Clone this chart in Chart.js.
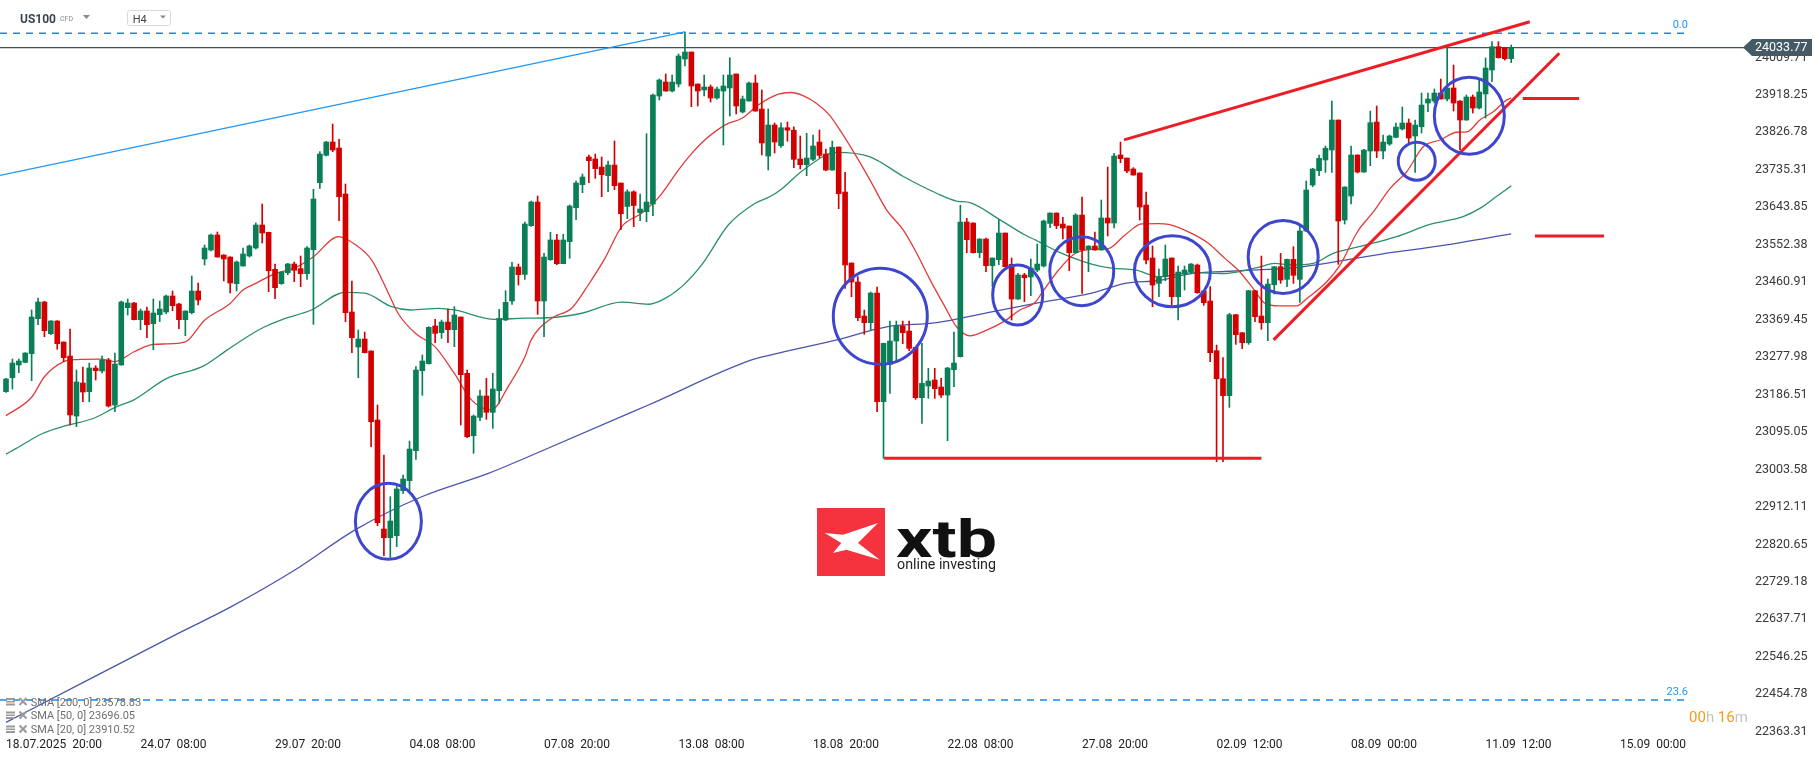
<!DOCTYPE html>
<html>
<head>
<meta charset="utf-8">
<script src="https://cdn.jsdelivr.net/npm/chart.js@4.4.0/dist/chart.umd.min.js"></script>
<style>
  html,body{margin:0;padding:0;background:#fff;}
  #wrap{position:relative;width:1815px;height:761px;overflow:hidden;}
  #c{position:absolute;left:0;top:0;}
  #ov{position:absolute;left:0;top:0;pointer-events:none;}
  text{font-family:Roboto,"DejaVu Sans",sans-serif;}
</style>
</head>
<body>
<div id="wrap">
<canvas id="c" width="1815" height="761"></canvas>
<svg id="ov" width="1815" height="761" xmlns="http://www.w3.org/2000/svg">
  <!-- header -->
  <text x="20" y="23.3" font-size="12" font-weight="bold" fill="#37474f">US100</text>
  <text x="60" y="21.3" font-size="7" fill="#8a8a8a">CFD</text>
  <polygon points="83,15 90,15 86.5,19" fill="#8a8a8a"/>
  <rect x="127.5" y="10.5" width="43" height="15" rx="2" fill="#fff" stroke="#dadada"/>
  <text x="132.7" y="22.5" font-size="11" fill="#444">H4</text>
  <polygon points="160,15.5 166,15.5 163,18.5" fill="#8a8a8a"/>

  <!-- legend -->
  <g fill="#9a9a9a">
    <rect x="6" y="698" width="9" height="2"/><rect x="6" y="701" width="9" height="1.5"/><rect x="6" y="703.5" width="9" height="2"/>
    <rect x="6" y="711.5" width="9" height="2"/><rect x="6" y="714.5" width="9" height="1.5"/><rect x="6" y="717" width="9" height="2"/>
    <rect x="6" y="725.5" width="9" height="2"/><rect x="6" y="728.5" width="9" height="1.5"/><rect x="6" y="731" width="9" height="2"/>
  </g>
  <g stroke="#9a9a9a" stroke-width="2">
    <line x1="19.5" y1="698" x2="26.5" y2="705"/><line x1="26.5" y1="698" x2="19.5" y2="705"/>
    <line x1="19.5" y1="711.5" x2="26.5" y2="718.5"/><line x1="26.5" y1="711.5" x2="19.5" y2="718.5"/>
    <line x1="19.5" y1="725.5" x2="26.5" y2="732.5"/><line x1="26.5" y1="725.5" x2="19.5" y2="732.5"/>
  </g>
  <g font-size="11" fill="#6f6f6f" style="white-space:pre">
    <text x="30.7" y="705.5" id="lg0"></text>
    <text x="30.7" y="719.2" id="lg1"></text>
    <text x="30.7" y="733.2" id="lg2"></text>
  </g>

  <!-- logo -->
  <rect x="817" y="508" width="68" height="68" fill="#f4333f"/>
  <polygon fill="#fff" points="824.7,533 843,534.7 878,523 858,543 879.7,559.7 846.3,549.7 833,553 841.3,543"/>
  <text x="896" y="556.7" font-size="51" font-weight="bold" fill="#111" textLength="101" lengthAdjust="spacingAndGlyphs">xtb</text>
  <text x="897" y="569" font-size="14" fill="#222" textLength="99" lengthAdjust="spacingAndGlyphs">online investing</text>

  <!-- countdown -->
  <text x="1689" y="721.5" font-size="15" style="white-space:pre"><tspan fill="#f59c1a">00</tspan><tspan fill="#c4c4c4">h </tspan><tspan fill="#f59c1a">16</tspan><tspan fill="#c4c4c4">m</tspan></text>
</svg>
</div>
<script>
// ---------------- DATA ----------------
const candleOpen = [
23193.5,23227.7,23258.7,23265.2,23286.3,23371.8,23412.5,23335.2,23366.1,23314.8,
23280.6,23134.1,23214.7,23193.5,23251.3,23244.0,23270.9,23161.0,23258.7,23398.6,
23410.0,23369.3,23390.5,23359.6,23381.6,23388.1,23427.1,23407.6,23369.3,23386.4,
23439.3,23517.5,23539.4,23576.1,23527.2,23522.3,23457.2,23500.4,23524.8,23544.3,
23600.5,23582.6,23492.2,23457.2,23484.1,23505.3,23493.9,23481.7,23540.3,23703.9,
23770.6,23803.1,23788.5,23676.2,23388.1,23302.6,23322.1,23292.8,23124.4,22858.2,
22837.0,22841.9,22951.8,22976.2,23049.5,23244.8,23261.9,23353.9,23337.6,23363.6,
23344.9,23375.8,23238.3,23086.1,23130.9,23183.0,23143.1,23196.0,23368.5,23414.9,
23497.9,23480.0,23598.8,23656.6,23414.9,23515.8,23563.8,23506.0,23559.8,23642.8,
23698.9,23766.5,23761.6,23742.0,23720.9,23746.9,23703.0,23645.7,23681.5,23630.6,
23633.0,23651.7,23915.4,23949.6,23927.6,23944.7,24005.8,24022.9,23944.7,23930.1,
23937.4,23910.6,23927.6,23935.0,23969.2,23876.4,23903.2,23947.2,23883.7,23768.9,
23844.7,23794.1,23838.0,23832.0,23761.6,23747.8,23760.8,23803.1,23773.8,23734.7,
23790.9,23681.0,23507.7,23461.3,23378.2,23362.0,23434.4,23169.1,23260.2,23317.2,
23353.8,23341.6,23301.7,23178.8,23207.3,23222.0,23204.9,23185.3,23247.2,23279.0,
23607.8,23605.3,23532.9,23566.3,23501.1,23515.8,23580.9,23504.4,23419.7,23478.4,
23473.5,23490.5,23500.3,23604.5,23629.7,23602.9,23598.0,23532.9,23624.8,23541.0,
23549.1,23539.4,23617.5,23605.3,23771.3,23764.0,23737.2,23727.4,23649.3,23519.9,
23458.0,23474.3,23519.9,23425.4,23480.8,23486.5,23502.7,23439.3,23414.9,23293.6,
23225.2,23183.7,23381.5,23337.5,23313.1,23440.1,23378.2,23361.9,23454.7,23498.7,
23467.8,23516.6,23467.8,23585.8,23698.1,23733.1,23759.2,23783.6,23856.8,23612.6,
23671.2,23771.4,23729.8,23781.1,23851.9,23781.1,23798.2,23814.5,23834.9,23849.5,
23817.8,23840.5,23898.3,23903.2,23922.7,23908.1,23935.0,23903.2,23856.8,23913.0,
23886.1,23920.3,23978.9,24035.9,24032.6,24006.6];

const candleHigh = [
23226.0,23273.3,23273.3,23288.7,23393.0,23422.2,23414.0,23367.0,23367.0,23315.0,
23346.5,23246.4,23253.8,23263.5,23257.0,23280.6,23274.9,23287.9,23414.9,23419.8,
23411.6,23395.4,23400.3,23419.8,23414.9,23429.6,23439.3,23409.0,23391.0,23476.0,
23458.9,23551.7,23578.5,23583.4,23528.0,23523.0,23512.6,23544.3,23551.7,23605.4,
23651.8,23583.0,23505.3,23487.4,23506.9,23510.1,23524.8,23547.6,23687.6,23779.5,
23804.8,23847.1,23809.7,23700.6,23463.7,23344.1,23339.2,23293.0,23161.0,23038.9,
22937.2,22961.6,22990.1,23073.1,23254.6,23283.1,23352.0,23370.2,23368.5,23395.4,
23401.1,23376.0,23246.4,23136.6,23197.6,23226.1,23238.3,23394.6,23440.1,23509.3,
23505.3,23607.8,23659.1,23671.3,23531.3,23582.5,23577.7,23577.7,23649.3,23707.9,
23725.0,23771.4,23773.8,23766.5,23756.7,23805.6,23703.0,23686.4,23684.0,23676.2,
23823.5,23920.3,23957.0,23969.2,23966.7,24018.0,24071.7,24023.0,23945.0,23966.7,
23942.3,23937.0,23966.7,24009.0,23969.2,23915.4,23949.6,23966.7,23930.1,23883.7,
23849.5,23850.0,23852.0,23840.0,23817.8,23824.3,23820.2,23832.4,23786.0,23805.5,
23791.0,23729.0,23508.0,23474.3,23392.9,23436.8,23449.1,23312.0,23366.0,23366.0,
23366.0,23366.0,23302.0,23311.5,23250.5,23250.5,23226.1,23252.9,23339.2,23648.5,
23616.7,23606.0,23567.0,23568.7,23520.0,23614.3,23581.0,23519.9,23482.4,23482.4,
23517.4,23554.0,23612.6,23630.0,23630.0,23619.1,23598.0,23628.1,23668.8,23550.0,
23583.3,23661.5,23742.0,23775.4,23803.1,23764.0,23740.4,23728.0,23681.0,23549.1,
23493.0,23551.6,23520.0,23500.3,23500.3,23506.0,23505.2,23440.0,23449.9,23307.4,
23276.5,23384.7,23382.0,23338.0,23441.0,23441.0,23524.7,23468.6,23499.0,23531.2,
23517.0,23547.5,23602.1,23707.9,23738.8,23771.4,23793.3,23903.2,23857.0,23694.0,
23793.3,23772.0,23785.0,23878.8,23891.0,23820.2,23820.2,23849.5,23888.6,23859.3,
23856.8,23922.7,23922.7,23932.5,23956.9,24039.9,23991.1,23904.0,23917.9,23917.9,
23954.5,24008.2,24048.1,24048.1,24033.0,24040.0];

const candleLow = [
23192.0,23200.1,23239.9,23264.0,23220.4,23357.1,23327.8,23332.7,23296.9,23266.8,
23112.2,23108.1,23169.1,23169.1,23222.0,23239.1,23156.1,23144.7,23258.0,23380.7,
23369.0,23344.9,23325.4,23296.1,23364.5,23384.0,23391.3,23347.3,23330.3,23383.2,
23405.2,23502.8,23537.0,23522.0,23463.8,23434.5,23439.3,23500.0,23522.3,23541.9,
23556.5,23437.7,23420.6,23455.6,23479.2,23462.1,23449.9,23467.8,23357.9,23690.0,
23769.0,23779.5,23611.1,23364.5,23288.8,23227.7,23288.0,23059.2,22866.4,22793.1,
22789.0,22815.1,22945.3,22949.4,23028.3,23184.6,23261.0,23313.2,23323.8,23313.2,
23303.4,23112.2,23081.2,23042.9,23122.7,23126.0,23104.0,23165.1,23367.0,23406.8,
23454.0,23467.8,23597.2,23382.3,23327.8,23514.0,23503.6,23506.0,23519.1,23613.5,
23679.4,23703.8,23714.4,23669.6,23681.9,23686.7,23589.1,23615.9,23596.4,23611.0,
23608.6,23623.2,23905.7,23927.0,23925.2,23937.4,23988.7,23889.4,23891.0,23915.4,
23900.8,23908.0,23795.8,23866.6,23871.5,23873.9,23903.0,23878.0,23771.4,23734.8,
23776.3,23790.0,23805.0,23740.4,23737.2,23720.9,23757.5,23764.8,23733.1,23734.0,
23640.3,23445.8,23425.4,23366.9,23333.5,23344.1,23144.7,23030.7,23189.4,23264.3,
23310.7,23293.6,23174.8,23116.2,23177.2,23177.2,23179.6,23073.8,23205.7,23278.0,
23532.9,23532.0,23520.7,23486.5,23449.9,23503.6,23498.0,23368.5,23419.0,23413.3,
23427.9,23486.5,23497.9,23593.9,23591.5,23566.2,23488.9,23532.0,23433.6,23486.5,
23539.0,23539.0,23573.6,23593.1,23752.6,23728.2,23722.0,23612.6,23505.2,23401.0,
23425.4,23464.5,23405.1,23368.5,23441.7,23482.4,23433.6,23404.3,23266.7,23022.5,
23022.5,23155.2,23309.0,23298.5,23309.0,23364.4,23345.7,23318.0,23432.0,23458.0,
23449.9,23458.0,23411.6,23584.2,23694.0,23720.9,23729.0,23729.0,23504.4,23602.9,
23651.7,23727.4,23729.0,23745.3,23764.9,23761.6,23795.0,23812.9,23832.4,23801.5,
23729.0,23825.1,23877.2,23898.3,23908.0,23903.2,23878.8,23783.6,23856.0,23873.9,
23883.7,23861.7,23950.4,24008.0,24003.3,23996.8];

const candleClose = [
23224.5,23263.5,23268.4,23287.9,23375.8,23412.5,23342.5,23366.1,23310.7,23276.6,
23136.6,23217.2,23192.7,23251.3,23244.8,23270.9,23158.5,23261.1,23412.5,23410.0,
23369.3,23390.5,23357.1,23385.6,23395.4,23427.1,23403.5,23369.3,23390.5,23439.3,
23417.4,23544.3,23576.1,23522.3,23517.5,23458.9,23510.1,23529.7,23549.2,23600.5,
23581.0,23489.0,23447.5,23484.9,23505.3,23489.8,23481.7,23544.3,23664.0,23773.8,
23803.1,23783.6,23669.7,23386.4,23325.4,23322.1,23288.8,23120.3,22873.7,22837.0,
22877.7,22955.9,22980.3,23053.5,23246.4,23268.4,23350.6,23336.0,23363.6,23344.9,
23380.7,23235.0,23083.7,23134.1,23183.0,23143.1,23200.0,23372.6,23411.6,23497.9,
23479.2,23602.9,23656.6,23414.9,23522.3,23563.8,23506.0,23563.8,23646.8,23703.0,
23717.7,23757.5,23738.0,23723.4,23746.9,23696.5,23628.1,23681.5,23648.1,23639.5,
23656.6,23917.9,23954.5,23927.6,23949.6,24013.1,24022.9,23939.9,23927.6,23937.4,
23910.6,23932.5,23939.9,23966.7,23891.0,23908.1,23947.2,23878.8,23800.7,23844.7,
23803.1,23838.0,23832.0,23760.8,23747.8,23764.0,23793.3,23770.5,23734.7,23790.1,
23676.9,23502.8,23461.3,23374.2,23362.0,23434.4,23169.1,23311.5,23317.2,23353.8,
23337.5,23299.3,23178.8,23213.8,23219.5,23200.8,23185.3,23251.3,23263.5,23607.8,
23564.6,23532.9,23566.3,23501.1,23519.9,23580.9,23498.7,23419.7,23478.4,23471.8,
23495.4,23505.2,23610.2,23629.7,23598.8,23593.1,23532.9,23624.8,23539.4,23549.1,
23539.4,23617.5,23605.3,23768.9,23762.4,23732.3,23722.5,23644.4,23515.0,23453.9,
23472.6,23517.4,23425.4,23485.7,23490.5,23505.2,23435.2,23410.8,23288.7,23225.2,
23183.7,23381.5,23332.7,23313.1,23440.1,23376.6,23361.9,23456.4,23498.7,23466.1,
23516.6,23477.6,23585.8,23685.9,23737.2,23763.2,23787.6,23856.8,23610.2,23693.2,
23771.4,23729.8,23783.6,23850.3,23781.1,23803.1,23817.8,23839.7,23849.5,23812.9,
23844.6,23893.4,23908.1,23922.7,23908.1,23935.0,23898.3,23856.8,23913.0,23886.1,
23925.2,23983.8,24035.9,24009.0,24006.6,24033.77];

// x axis: candle index of each date label, and its text
const xTickIdx = [0,21,42,63,84,105,126,147,168,189,210,231,252];
const xTickLabels = ['18.07.2025  20:00','24.07  08:00','29.07  20:00','04.08  08:00','07.08  20:00','13.08  08:00',
  '18.08  20:00','22.08  08:00','27.08  20:00','02.09  12:00','08.09  00:00','11.09  12:00','15.09  00:00'];
// y axis tick values
const yTickValues = [24009.71,23918.25,23826.78,23735.31,23643.85,23552.38,23460.91,23369.45,23277.98,23186.51,
  23095.05,23003.58,22912.11,22820.65,22729.18,22637.71,22546.25,22454.78,22363.31];

// moving averages: [candle index, value]
const sma20 = [[0,23135],[4,23180],[6,23230],[9,23267],[11,23272],[14.7,23273],[17,23267],[20,23291],[23,23309],[25,23310],[28,23315],
 [31,23368],[35,23409],[37,23442],[39,23458],[42,23482],[45,23495],[48,23523],[51.9,23572],[54.5,23553],[57.1,23515],[59.7,23434],
 [61.2,23385],[63.9,23336],[67,23303],[70,23238],[72.7,23173],[75.8,23149],[78.4,23206],[81,23278],[82,23320],[85.2,23373],[88.3,23397],
 [90.9,23454],[93.5,23519],[96.1,23596],[99.2,23629],[101.8,23666],[105,23735],[106.6,23767],[109.1,23808],[112.3,23845],[114.9,23861],
 [117.5,23894],[120.6,23920],[122.5,23924],[124.5,23916],[126.5,23898],[128.5,23870],[130.2,23832],[132.8,23767],[134.9,23710],
 [137.5,23637],[140.1,23588],[142.2,23531],[144.3,23466],[146.3,23409],[148.4,23352],[150.5,23330],[153.1,23344],[155.7,23364],
 [158.3,23393],[160.7,23412],[161.7,23434],[164.3,23490],[166.9,23531],[169.5,23541],[172.1,23543],[174.7,23576],[177.3,23603],
 [179.9,23604],[181.5,23602],[185.1,23580],[187.7,23556],[190.3,23519],[192.4,23490],[194.5,23450],[196.6,23409],[198.7,23403],
 [201.5,23403],[203.1,23421],[206.2,23462],[208.3,23503],[211,23584],[213.5,23633],[216.1,23690],[218.7,23731],[221.3,23792],
 [223.9,23808],[226.5,23827],[228.1,23828],[230.1,23857],[232.2,23877],[234.3,23906],[235,23910.52]];
const sma50 = [[0,23041],[1.6,23055],[5.8,23092],[9.5,23111],[13.6,23128],[17.3,23157],[19.9,23173],[25.1,23226],[30.8,23256],
 [34.5,23295],[38.1,23332],[40.4,23352],[43,23369],[47.7,23393],[52.9,23436],[56,23434],[60.2,23401],[63.2,23393],[67.5,23397],
 [70,23393],[76.3,23370],[81,23373],[84.7,23374],[89.9,23385],[96.1,23412],[100.3,23407],[102.4,23417],[105.5,23450],[108.6,23503],
 [112.8,23601],[116.9,23653],[119.3,23670],[120.9,23686],[124.5,23735],[129.7,23778],[134.9,23767],[140.1,23719],[145.3,23678],
 [148.4,23659],[150.5,23655],[155.2,23613],[159.1,23576],[160.7,23564],[164.3,23535],[169.5,23505],[172.6,23495],[176.3,23491],
 [179.9,23474],[185.1,23484],[190.3,23482],[195.5,23497],[198.1,23507],[200.5,23503],[204.1,23507],[207.2,23531],[211.9,23550],
 [217.1,23572],[222.3,23602],[227.5,23621],[230.1,23641],[232.7,23670],[235,23696.05]];
const sma200 = [[0,22386],[12.6,22488],[26.2,22598],[35.1,22668],[45.1,22758],[54.5,22856],[64.9,22937],[75.3,22994],[81,23031],
 [100.3,23161],[116.4,23271],[119.3,23283],[129.7,23320],[137.5,23352],[145.3,23362],[153.1,23386],[160.7,23409],[169.5,23434],
 [174.7,23458],[179.9,23465],[185.1,23482],[190.3,23487],[195.5,23491],[200.5,23495],[214.5,23529],[224.9,23552],[235,23578.83]];
const smaNames = ['SMA [200,  0] 23578.83','SMA [50,  0] 23696.05','SMA [20,  0] 23910.52'];

// drawn analysis: [candle index, price]
const blueTrend = [[-0.94,23721.6],[106,24072]];
const redUpper = [[174.55,23808.3],[237.9,24096.9]];
const redLower = [[197.9,23319.9],[242.5,24019.7]];
const redBase = [[137.1,23030.8],[196,23030.8]];
const redMark1 = [[236.8,23909.6],[245.6,23909.6]];
const redMark2 = [[238.7,23573.6],[249.5,23573.6]];
const fibLabels = ['0.0','23.6'];
const fibValues = [24068.6,22440.7];
const fibEnd = 262.9;
const lastPrice = 24033.77;
// circles: centre (candle index, price), radii in px
const circleIdx = [59.7,136.5,157.95,167.95,182.1,199.4,220.25,228.46];
const circlePrice = [22877,23377.6,23429.6,23487.7,23487.7,23522.3,23756.3,23867.1];
const circleRx = [33,47,25,32,38,35,18.5,35];
const circleRy = [38,48,30,34.5,35.5,36.5,19,38.5];

// ---------------- CHART ----------------
smaNames.forEach((t,k)=>{document.getElementById('lg'+k).textContent=t;});

const UP='#0a7f55', DOWN='#d20000';
const N = candleOpen.length;
const idx = Array.from({length:N},(_,i)=>i);
const col = idx.map(i => candleClose[i] >= candleOpen[i] ? UP : DOWN);
const pts = a => a.map(([x,y])=>({x,y}));
const line = (data,color,width,order,extra) => Object.assign({type:'line',data:pts(data),borderColor:color,borderWidth:width,
  pointRadius:0,fill:false,order:order,borderCapStyle:'butt'},extra||{});
const xMin=-0.937, xMax=271.5;

const overlay = {
  id:'overlay',
  afterDatasetsDraw(chart){
    const {ctx, scales:{x,y}} = chart;
    ctx.save();
    ctx.strokeStyle='#3d46cc'; ctx.lineWidth=3;
    circleIdx.forEach((ci,k)=>{
      ctx.beginPath();
      ctx.ellipse(x.getPixelForValue(ci), y.getPixelForValue(circlePrice[k]), circleRx[k], circleRy[k], 0, 0, Math.PI*2);
      ctx.stroke();
    });
    ctx.font='11px Roboto'; ctx.fillStyle='#2196f3'; ctx.textAlign='right'; ctx.textBaseline='alphabetic';
    fibValues.forEach((v,k)=>ctx.fillText(fibLabels[k], x.getPixelForValue(fibEnd)-2, y.getPixelForValue(v)-5));
    ctx.restore();
  },
  afterDraw(chart){
    const {ctx, chartArea, scales:{y}} = chart;
    const py = y.getPixelForValue(lastPrice);
    const r = chartArea.right;
    ctx.save();
    ctx.fillStyle='#455a64';
    ctx.beginPath();
    ctx.moveTo(r-2, py); ctx.lineTo(r+7, py-8.5); ctx.lineTo(1812, py-8.5); ctx.lineTo(1812, py+8.5); ctx.lineTo(r+7, py+8.5);
    ctx.closePath(); ctx.fill();
    ctx.fillStyle='#fff'; ctx.font='12.5px Roboto'; ctx.textAlign='left'; ctx.textBaseline='middle';
    ctx.fillText(lastPrice.toFixed(2), r+10, py+0.5);
    ctx.restore();
  }
};

new Chart(document.getElementById('c'), {
  type:'bar',
  data:{ datasets:[
    line(redUpper,'#ee1c25',3,1),
    line(redLower,'#ee1c25',3,1),
    line(redBase,'#ee1c25',3,1),
    line(redMark1,'#ee1c25',3,1),
    line(redMark2,'#ee1c25',3,1),
    line(blueTrend,'#2196f3',1.3,2),
    {type:'bar', data: idx.map(i=>({x:i,y:[candleOpen[i],candleClose[i]]})), backgroundColor:col, grouped:false,
      maxBarThickness:5, barPercentage:1, categoryPercentage:1, minBarLength:1, order:5},
    {type:'bar', data: idx.map(i=>({x:i,y:[candleLow[i],candleHigh[i]]})), backgroundColor:col, grouped:false,
      maxBarThickness:1, barPercentage:1, categoryPercentage:1, order:6},
    line(sma20,'#e23b3b',1.3,8,{cubicInterpolationMode:'monotone'}),
    line(sma50,'#2a9068',1.3,9,{cubicInterpolationMode:'monotone'}),
    line(sma200,'#4a54b0',1.3,10,{cubicInterpolationMode:'monotone'}),
    line([[xMin,lastPrice],[xMax,lastPrice]],'#3f4f5a',1.2,11),
    line([[xMin,fibValues[0]],[fibEnd,fibValues[0]]],'#1e88e5',1.5,12,{borderDash:[7,6]}),
    line([[xMin,fibValues[1]],[fibEnd,fibValues[1]]],'#1e88e5',1.5,12,{borderDash:[7,6]})
  ]},
  options:{
    responsive:false, animation:false, devicePixelRatio:1,
    layout:{padding:0},
    plugins:{legend:{display:false}, tooltip:{enabled:false}},
    scales:{
      x:{type:'linear', min:xMin, max:xMax, offset:false, position:'bottom',
        grid:{display:false, drawTicks:false, offset:false}, border:{display:false},
        afterBuildTicks(s){ s.ticks = xTickIdx.map(v=>({value:v})); },
        afterFit(s){ s.height=26; s.paddingLeft=0; s.paddingRight=0; },
        ticks:{autoSkip:false, maxRotation:0, minRotation:0, align:'start', padding:3, color:'#222',
          font:{family:'Roboto', size:12},
          callback:(v)=>{ const k=xTickIdx.indexOf(v); return k>=0? xTickLabels[k] : ''; }}
      },
      y:{type:'linear', position:'right', min:22355.25, max:24149.86, beginAtZero:false,
        grid:{display:false, drawTicks:false}, border:{display:false},
        afterBuildTicks(s){ s.ticks = yTickValues.map(v=>({value:v})); },
        afterFit(s){ s.width=70; s.paddingTop=0; s.paddingBottom=0; },
        ticks:{padding:10, color:'#3a3a3a', font:{family:'Roboto', size:12.5},
          callback:(v)=>Number(v).toFixed(2)}
      }
    }
  },
  plugins:[overlay]
});
</script>
</body>
</html>
